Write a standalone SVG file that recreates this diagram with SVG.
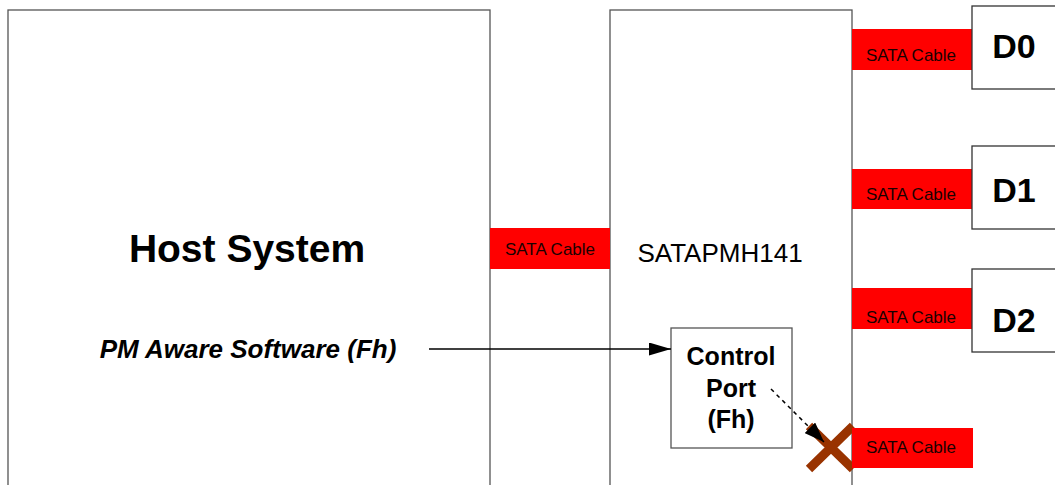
<svg xmlns="http://www.w3.org/2000/svg" width="1055" height="485" viewBox="0 0 1055 485">
<style>
.box{fill:#fff;stroke:#555;stroke-width:1.3}
.dbox{fill:#fff;stroke:#333;stroke-width:1.3}
.cable{fill:#ff0000;stroke:none}
.ct{font-family:"Liberation Sans",Arial,sans-serif;font-size:17px;fill:#1a0000}
.big{font-family:"Liberation Sans",Arial,sans-serif;font-weight:bold;fill:#000}
.conn{stroke:#000;stroke-width:1.5;fill:none}
</style>
<defs>
<marker id="ah" viewBox="0 0 22 13" refX="22" refY="6.5" markerWidth="22" markerHeight="13" markerUnits="userSpaceOnUse" orient="auto">
<path d="M0,0 L22,6.5 L0,13 Z" fill="#000"/>
</marker>
<marker id="ah2" viewBox="0 0 20 15" refX="20" refY="7.5" markerWidth="20" markerHeight="15" markerUnits="userSpaceOnUse" orient="auto">
<path d="M0,0 L20,7.5 L0,15 Z" fill="#000"/>
</marker>
</defs>
<rect width="1055" height="485" fill="#fff"/>
<g id="host">
<rect class="box" x="8" y="10" width="482" height="490"/>
<text class="big" x="247" y="262" font-size="39" text-anchor="middle">Host System</text>
<text class="big" x="248" y="358" font-size="26" font-style="italic" text-anchor="middle">PM Aware Software (Fh)</text>
</g>
<g id="pmh">
<rect class="box" x="610" y="10" width="242" height="490"/>
<text x="720" y="262" font-family="'Liberation Sans',Arial,sans-serif" font-size="26" text-anchor="middle" fill="#000">SATAPMH141</text>
</g>
<g id="control-port">
<rect class="box" x="671" y="328" width="121" height="120"/>
<text class="big" font-size="25" text-anchor="middle"><tspan x="731" y="365">Control</tspan><tspan x="731" y="397">Port</tspan><tspan x="731" y="428">(Fh)</tspan></text>
</g>
<g id="x-mark">
<path d="M809,426 L853,469 M809,469 L853,426" stroke="#993300" stroke-width="9" fill="none"/>
</g>
<g id="cable-host">
<rect class="cable" x="490" y="228" width="120" height="41"/>
<text class="ct" x="550" y="255" text-anchor="middle">SATA Cable</text>
</g>
<g id="cable-d0">
<rect class="cable" x="852" y="29" width="120" height="41"/>
<text class="ct" x="911" y="61" text-anchor="middle">SATA Cable</text>
</g>
<g id="cable-d1">
<rect class="cable" x="852" y="169" width="120" height="40"/>
<text class="ct" x="911" y="200" text-anchor="middle">SATA Cable</text>
</g>
<g id="cable-d2">
<rect class="cable" x="852" y="288" width="120" height="41"/>
<text class="ct" x="911" y="323" text-anchor="middle">SATA Cable</text>
</g>
<g id="cable-x">
<rect class="cable" x="852" y="428" width="121" height="40"/>
<text class="ct" x="911" y="453" text-anchor="middle">SATA Cable</text>
</g>
<g id="d0">
<rect class="dbox" x="972" y="6" width="100" height="83"/>
<text class="big" x="1014" y="58" font-size="34" text-anchor="middle">D0</text>
</g>
<g id="d1">
<rect class="dbox" x="972" y="146" width="100" height="83"/>
<text class="big" x="1014" y="202" font-size="34" text-anchor="middle">D1</text>
</g>
<g id="d2">
<rect class="dbox" x="972" y="269" width="100" height="83"/>
<text class="big" x="1014" y="332" font-size="34" text-anchor="middle">D2</text>
</g>
<g id="connectors">
<line class="conn" x1="429" y1="349" x2="671" y2="349" marker-end="url(#ah)"/>
<line class="conn" x1="771" y1="389" x2="824" y2="442" stroke-width="2.2" stroke-dasharray="4,4" marker-end="url(#ah2)"/>
</g>
</svg>
